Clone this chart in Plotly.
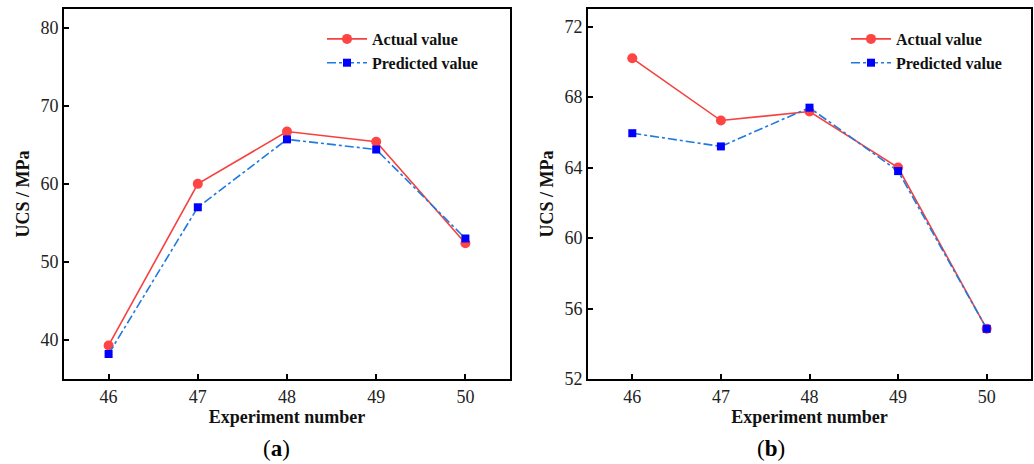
import plotly.graph_objects as go

# Experiment numbers shared by both panels
experiments = [46, 47, 48, 49, 50]

# Panel (a)
actual_a = [39.3, 60.0, 66.7, 65.4, 52.4]
predicted_a = [38.2, 57.0, 65.7, 64.4, 53.0]

# Panel (b)
actual_b = [70.2, 66.67, 67.18, 64.0, 54.85]
predicted_b = [65.95, 65.2, 67.4, 63.8, 54.85]

yticks_a = [40, 50, 60, 70, 80]
yticks_b = [52, 56, 60, 64, 68, 72]

RED = "#f5413f"
RED_MARK = "#ff4444"
BLUE_LINE = "#1f7ae0"
BLUE_MARK = "#0000ff"
SERIF = "Liberation Serif, Times New Roman, serif"

W, H = 1034, 464
fig = go.Figure()

panels = [
    ("x", "y", actual_a, predicted_a, "legend"),
    ("x2", "y2", actual_b, predicted_b, "legend2"),
]
for xa, ya, act, pred, leg in panels:
    fig.add_trace(go.Scatter(
        x=experiments, y=act, xaxis=xa, yaxis=ya, name="Actual value",
        mode="lines+markers", legend=leg,
        line=dict(color=RED, width=1.6),
        marker=dict(symbol="circle", size=10, color=RED_MARK),
    ))
    fig.add_trace(go.Scatter(
        x=experiments, y=pred, xaxis=xa, yaxis=ya, name="Predicted value",
        mode="lines+markers", legend=leg,
        line=dict(color=BLUE_LINE, width=1.6, dash="dashdot"),
        marker=dict(symbol="square", size=8, color=BLUE_MARK),
    ))

def px(x):
    return x / W

def py(y):
    return 1 - y / H

axis_common = dict(
    showline=True, linecolor="black", linewidth=2, mirror=True,
    ticks="inside", ticklen=5, tickwidth=1.5, tickcolor="black",
    showgrid=False, zeroline=False, automargin=False,
    tickfont=dict(family=SERIF, size=18, color="#222"),
)
title_font = dict(family=SERIF, size=18, color="#111", weight="bold")
legend_font = dict(family=SERIF, size=16, color="#111", weight="bold")

fig.update_layout(
    width=W, height=H,
    margin=dict(l=0, r=0, t=0, b=0, autoexpand=False),
    paper_bgcolor="white", plot_bgcolor="white",
    xaxis=dict(domain=[px(64), px(510)], range=[45.5, 50.5], tickvals=experiments,
               anchor="y", title=dict(text="Experiment number", font=title_font, standoff=4),
               **axis_common),
    yaxis=dict(domain=[py(379), py(9)], range=[35, 82.4], tickvals=yticks_a,
               anchor="x", title=dict(text="UCS / MPa", font=title_font, standoff=6),
               **axis_common),
    xaxis2=dict(domain=[px(588), px(1031)], range=[45.5, 50.5], tickvals=experiments,
                anchor="y2", title=dict(text="Experiment number", font=title_font, standoff=4),
                **axis_common),
    yaxis2=dict(domain=[py(379), py(9)], range=[52, 73], tickvals=yticks_b,
                anchor="x2", title=dict(text="UCS / MPa", font=title_font, standoff=6),
                **axis_common),
    legend=dict(x=px(322), y=py(22), xanchor="left", yanchor="top",
                bgcolor="rgba(0,0,0,0)", tracegroupgap=0, itemwidth=40,
                font=legend_font),
    legend2=dict(x=px(846), y=py(22), xanchor="left", yanchor="top",
                 bgcolor="rgba(0,0,0,0)", tracegroupgap=0, itemwidth=40,
                 font=legend_font),
    annotations=[
        dict(text="(<b>a</b>)", x=px(261), y=py(448), xref="paper", yref="paper",
             yanchor="middle", showarrow=False,
             font=dict(family=SERIF, size=23, color="black")),
        dict(text="(<b>b</b>)", x=px(787), y=py(448), xref="paper", yref="paper",
             yanchor="middle", showarrow=False,
             font=dict(family=SERIF, size=23, color="black")),
    ],
)

fig.write_html("out.html")
